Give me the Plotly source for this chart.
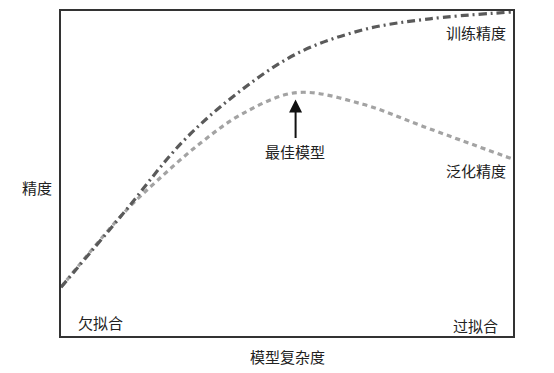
import plotly.graph_objects as go

train_x = [0, 13.7, 27.0, 39.2, 52.2, 66.8, 81.6, 100]
train_y = [15.0, 37.6, 59.9, 74.9, 86.9, 94.2, 97.6, 99.7]
gen_x = [0, 13.7, 21.2, 30.8, 40.3, 52.2, 66.8, 80.1, 100]
gen_y = [15.0, 37.6, 47.7, 59.3, 68.5, 74.9, 71.3, 64.5, 54.4]

FONT = "Noto Sans CJK SC"
FS = 15

fig = go.Figure()
fig.add_trace(go.Scatter(x=gen_x, y=gen_y, mode="lines",
                         line=dict(color="#a3a3a3", width=3.2, dash="5px,4px", shape="spline", smoothing=1.0),
                         hoverinfo="skip"))
fig.add_trace(go.Scatter(x=train_x, y=train_y, mode="lines",
                         line=dict(color="#5a5a5a", width=3.2, dash="8px,4px,2px,4px", shape="spline", smoothing=1.0),
                         hoverinfo="skip"))

ann = []
def txt(x, y, t, xanchor="center", ref="data"):
    xr, yr = ("x", "y") if ref == "data" else ("paper", "paper")
    ann.append(dict(x=x, y=y, text=t, showarrow=False, xanchor=xanchor, yanchor="middle",
                    xref=xr, yref=yr, borderpad=0,
                    font=dict(family=FONT, size=FS, color="#222")))

txt(98.6, 93.3, "训练精度", xanchor="right")
txt(98.6, 50.8, "泛化精度", xanchor="right")
txt(51.8, 56.9, "最佳模型")
txt(3.5, 4.1, "欠拟合", xanchor="left")
txt(96.8, 3.2, "过拟合", xanchor="right")
txt(-0.053, 0.457, "精度", ref="paper")
txt(0.501, -0.063, "模型复杂度", ref="paper")
ann.append(dict(x=51.9, y=72.8, xref="x", yref="y", ax=0, ay=40, text="", showarrow=True,
                arrowhead=2, arrowsize=1.3, arrowwidth=2, arrowcolor="#111"))

# page has an 8px body margin; plot area sits at page x 61..513, y 9..336
fig.update_layout(
    width=538, height=363,
    margin=dict(l=53, r=33, t=1, b=35),
    paper_bgcolor="white", plot_bgcolor="white",
    showlegend=False,
    annotations=ann,
    xaxis=dict(range=[0, 100], showgrid=False, zeroline=False, showticklabels=False, ticks="",
               showline=True, mirror=True, linecolor="#333", linewidth=2),
    yaxis=dict(range=[0, 100], showgrid=False, zeroline=False, showticklabels=False, ticks="",
               showline=True, mirror=True, linecolor="#333", linewidth=2),
)
fig.write_html("out.html")
